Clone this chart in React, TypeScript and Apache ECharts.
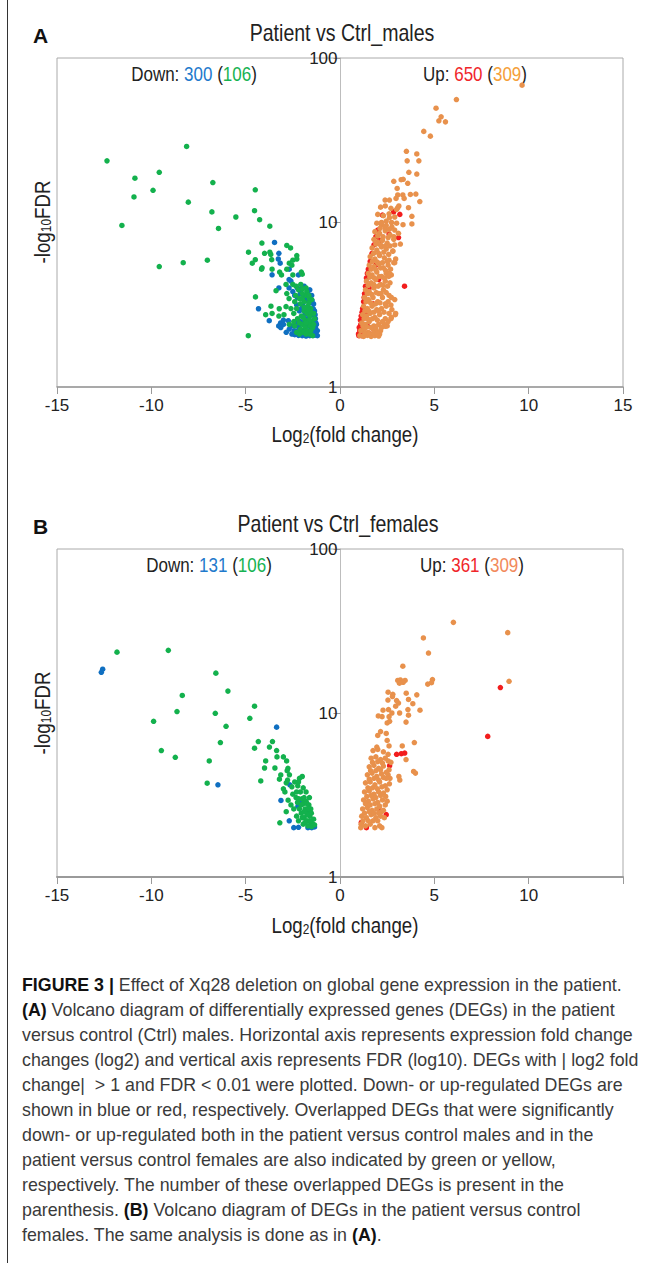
import React, { useEffect, useRef } from 'react';
import * as echarts from 'echarts';

const FONT = "'Liberation Sans', Arial, sans-serif";
const NARROW = 0.85;

const COL_BLUE = '#0f6fc1';
const COL_GREEN = '#13b14d';
const COL_RED = '#f21d1d';
const COL_ORANGE = '#e8914c';

// Axis ticks
const xTicks = [-15, -10, -5, 0, 5, 10, 15];
const xTickLabelsA = ['-15', '-10', '-5', '0', '5', '10', '15'];
const xTickLabelsB = ['-15', '-10', '-5', '0', '5', '10', ''];
const yTicks = [1, 10, 100];
const yTickLabels = ['1', '10', '100'];

// Counts shown in each panel: [down, downOverlap, up, upOverlap]
const countsA = [300, 106, 650, 309];
const countsB = [131, 106, 361, 309];

// ---------- Panel A (males) ----------
const aDownBlue: number[][] = [
  [-3.47, 7.56], [-3.24, 6.5], [-3.27, 6.0], [-3.17, 5.66], [-2.69, 5.2], [-3.6, 4.81], [-2.2, 4.8],
  [-2.7, 4.5], [-2.6, 4.4], [-3.24, 4.0], [-2.7, 4.0], [-2.26, 4.0], [-2.08, 3.93], [-2.5, 3.8],
  [-2.4, 3.6], [-2.26, 3.5], [-2.0, 3.45], [-1.8, 3.35], [-2.3, 3.16], [-4.32, 2.99], [-3.75, 2.53],
  [-3.15, 2.45], [-3.0, 2.4], [-3.25, 2.35], [-2.74, 2.53], [-2.69, 2.25], [-2.43, 2.2],
  [-2.4, 2.08], [-2.2, 2.06], [-2.0, 2.05], [-1.8, 2.04], [-1.6, 2.05], [-1.4, 2.06], [-1.25, 2.07],
  [-1.2, 2.2], [-1.25, 2.4], [-1.3, 2.6], [-1.35, 2.9], [-1.4, 3.2], [-1.5, 3.6], [-1.6, 3.9],
  [-1.9, 4.1], [-2.1, 2.5], [-1.8, 2.6], [-1.65, 2.9], [-2.15, 2.9], [-1.95, 3.1], [-1.7, 3.4],
  [-1.45, 2.2], [-2.55, 2.1], [-2.85, 2.15], [-3.0, 2.55], [-2.2, 2.35], [-2.0, 2.2], [-1.55, 2.25],
  [-1.3, 2.15], [-3.14, 2.3], [-1.2, 2.05], [-1.3, 2.3], [-1.38, 2.5], [-1.45, 2.75],
  [-1.28, 2.45], [-1.32, 2.75], [-1.42, 3.0], [-1.48, 3.35], [-1.55, 2.4], [-1.75, 2.35], [-1.95, 2.45],
  [-2.25, 2.2], [-1.65, 2.6], [-1.5, 2.8], [-1.85, 2.8], [-2.05, 3.0], [-1.75, 3.0], [-1.6, 3.25],
  [-1.85, 3.5], [-2.1, 3.7], [-1.7, 3.7], [-2.35, 2.5], [-2.55, 2.35], [-1.35, 2.25]
];
const aDownGreen: number[][] = [
  [-12.35, 23.7], [-8.13, 29.0], [-10.87, 18.6], [-9.58, 20.2], [-9.91, 15.7], [-10.92, 14.3],
  [-8.04, 13.3], [-6.74, 17.5], [-4.49, 15.8], [-11.56, 9.6], [-6.79, 11.6], [-6.44, 9.2],
  [-5.52, 10.8], [-4.53, 11.8], [-4.26, 10.4], [-3.72, 9.5], [-9.58, 5.4], [-8.31, 5.7], [-7.03, 5.9],
  [-4.86, 2.05], [-4.48, 3.53],
  [-4.14, 7.5], [-2.82, 7.25], [-2.62, 7.0], [-4.85, 6.6], [-4.0, 6.5], [-3.72, 6.6], [-3.67, 6.4],
  [-4.49, 5.94], [-4.65, 5.66], [-3.62, 5.94], [-2.29, 6.3], [-2.29, 6.0], [-2.5, 5.9], [-2.69, 5.66],
  [-2.55, 5.5], [-4.13, 5.3], [-4.16, 5.2], [-3.6, 5.2], [-3.2, 5.0], [-3.1, 4.8], [-2.82, 5.2],
  [-2.05, 5.0], [-2.0, 4.85], [-2.5, 4.8], [-2.86, 4.2], [-2.5, 4.2], [-2.33, 4.1], [-3.39, 3.85],
  [-2.08, 4.2], [-1.8, 4.0], [-1.76, 3.8], [-2.82, 3.7], [-2.7, 3.45], [-1.8, 3.6], [-1.63, 3.45],
  [-3.66, 3.1], [-3.22, 2.99], [-2.86, 3.08], [-3.94, 2.75], [-3.6, 2.8], [-3.24, 2.7], [-2.97, 2.75],
  [-2.69, 2.4], [-2.4, 2.35],
  [-2.2, 3.9], [-2.0, 3.7], [-1.9, 3.3], [-2.1, 3.2], [-1.7, 3.1], [-1.55, 3.0], [-2.3, 3.0],
  [-1.9, 2.9], [-1.75, 2.8], [-1.6, 2.7], [-2.05, 2.7], [-2.25, 2.6], [-1.85, 2.55], [-1.5, 2.5],
  [-1.7, 2.45], [-2.0, 2.4], [-1.6, 2.35], [-1.85, 2.3], [-2.1, 2.25], [-1.45, 2.3], [-1.75, 2.2],
  [-1.95, 2.15], [-1.6, 2.1], [-2.3, 2.15], [-1.5, 3.4], [-1.65, 3.6], [-2.15, 3.45], [-2.4, 3.3],
  [-1.4, 2.8], [-1.35, 2.6], [-2.45, 2.8], [-2.6, 3.0],
  [-1.4, 2.4], [-1.62, 2.55], [-1.8, 2.45], [-1.55, 2.85], [-1.72, 2.95], [-1.95, 2.65], [-2.15, 2.45],
  [-1.9, 3.05], [-1.65, 3.25], [-2.0, 3.45], [-1.55, 2.2], [-1.8, 2.1], [-2.15, 2.1], [-2.45, 2.5],
  [-2.35, 3.6], [-1.98, 3.95], [-1.45, 2.05]
];
const aUpRed: number[][] = [
  [2.84, 11.6], [3.17, 11.2], [2.25, 11.1], [2.6, 8.5], [3.1, 8.1], [3.42, 4.1],
  [1.0, 2.05], [1.05, 2.2], [0.98, 2.1], [1.1, 2.4], [1.12, 2.7], [1.2, 3.0], [1.25, 3.3], [1.3, 3.7],
  [1.35, 4.1], [1.4, 4.6], [1.5, 5.2], [1.6, 5.8], [1.7, 6.5], [1.8, 7.3], [1.9, 8.2], [2.0, 9.0],
  [1.15, 2.05], [1.3, 2.1], [1.2, 2.25], [1.08, 2.55], [1.6, 2.1], [1.45, 2.35], [1.55, 4.0],
  [2.1, 7.8], [1.75, 3.2], [1.4, 2.8], [2.05, 4.5], [1.9, 5.5], [1.02, 2.3], [1.17, 2.85],
  [1.28, 3.5], [1.45, 4.9]
];
const aUpOrange: number[][] = [
  [9.65, 68.4], [6.17, 55.9], [5.09, 49.5], [5.36, 43.9], [5.24, 41.5], [5.59, 40.9], [4.44, 35.8],
  [4.79, 33.5], [3.52, 27.1], [4.07, 26.1], [3.56, 23.7], [4.18, 23.7], [3.65, 20.2], [4.07, 19.7],
  [3.24, 18.2], [3.59, 17.3], [3.35, 18.3], [2.85, 17.8], [3.03, 16.1], [3.06, 14.7], [3.33, 14.7],
  [3.73, 14.8], [4.02, 14.9], [4.23, 13.4], [2.39, 13.7], [2.62, 13.7], [2.97, 14.0], [3.4, 14.0],
  [3.06, 12.3], [3.12, 12.6], [3.63, 12.3], [3.81, 10.9], [3.81, 9.8], [2.62, 10.7], [2.45, 10.2],
  [2.2, 9.7], [2.73, 10.0], [3.34, 9.7],
  [2.15, 12.4], [2.4, 12.6], [2.7, 12.2], [3.0, 12.0], [2.0, 11.2], [2.3, 11.0], [2.6, 11.3], [2.9, 10.8],
  [1.95, 9.9], [2.2, 10.0], [2.45, 9.6], [2.75, 9.4], [3.0, 9.9],
  [1.85, 8.8], [2.1, 8.6], [2.4, 8.9], [2.65, 8.4], [3.1, 8.6],
  [1.8, 7.9], [2.0, 7.6], [2.25, 7.8], [2.5, 7.5], [2.85, 7.9], [3.2, 7.4],
  [1.7, 7.0], [1.95, 6.8], [2.2, 7.1], [2.45, 6.9], [2.8, 6.7],
  [1.6, 6.2], [1.85, 6.0], [2.1, 6.3], [2.35, 6.1], [2.6, 5.9], [2.95, 6.0],
  [1.55, 5.5], [1.8, 5.4], [2.05, 5.6], [2.3, 5.3], [2.55, 5.5], [2.85, 5.7],
  [1.5, 4.9], [1.7, 4.8], [1.95, 5.0], [2.2, 4.7], [2.45, 4.9], [2.72, 4.8],
  [1.4, 4.4], [1.65, 4.3], [1.9, 4.5], [2.15, 4.2], [2.4, 4.4], [2.65, 4.3],
  [1.35, 3.9], [1.55, 3.8], [1.8, 4.0], [2.05, 3.7], [2.3, 3.9], [2.6, 3.6],
  [1.3, 3.5], [1.5, 3.4], [1.75, 3.5], [2.0, 3.3], [2.25, 3.5], [2.55, 3.3], [2.9, 3.4],
  [1.25, 3.1], [1.45, 3.0], [1.7, 3.1], [1.95, 2.95], [2.2, 3.0], [2.45, 3.1], [2.75, 2.95], [2.95, 2.8],
  [1.2, 2.75], [1.4, 2.7], [1.6, 2.8], [1.85, 2.65], [2.1, 2.75], [2.4, 2.6], [2.7, 2.6],
  [1.15, 2.45], [1.35, 2.4], [1.55, 2.5], [1.8, 2.35], [2.05, 2.4], [2.35, 2.4], [2.5, 2.35],
  [1.1, 2.2], [1.3, 2.25], [1.5, 2.15], [1.75, 2.25], [1.95, 2.15], [2.15, 2.2],
  [1.05, 2.05], [1.25, 2.03], [1.45, 2.06], [1.65, 2.03], [1.85, 2.05], [2.05, 2.04],
  [2.9, 7.3], [2.8, 6.7], [2.9, 5.7], [2.62, 4.9], [2.72, 3.5], [2.93, 2.75], [2.72, 2.65],
  [2.41, 2.34], [2.1, 2.1],
  [1.32, 2.12], [1.55, 2.1], [1.78, 2.12], [1.98, 2.1], [1.22, 2.35], [1.42, 2.32], [1.65, 2.3],
  [1.9, 2.28], [2.2, 2.3], [1.28, 2.6], [1.5, 2.58], [1.72, 2.6], [1.98, 2.55], [2.25, 2.5], [2.55, 2.5],
  [1.32, 2.9], [1.55, 2.88], [1.8, 2.85], [2.05, 2.9], [2.33, 2.85], [2.6, 2.8], [1.38, 3.3], [1.62, 3.25],
  [1.88, 3.2], [2.12, 3.25], [2.4, 3.2], [2.7, 3.15], [1.45, 3.7], [1.68, 3.65], [1.92, 3.75], [2.18, 3.7],
  [2.45, 3.75], [1.5, 4.15], [1.78, 4.2], [2.02, 4.1], [2.28, 4.15], [2.52, 4.1], [1.58, 4.65], [1.82, 4.6],
  [2.08, 4.7], [2.35, 4.6], [2.58, 4.7], [1.65, 5.2], [1.9, 5.15], [2.15, 5.3], [2.42, 5.1], [2.68, 5.2],
  [1.72, 5.8], [1.98, 5.75], [2.25, 5.7], [2.5, 5.8], [1.78, 6.5], [2.05, 6.5], [2.32, 6.6], [2.58, 6.4],
  [1.9, 7.4], [2.15, 7.3], [2.4, 7.2], [2.65, 7.2], [2.0, 8.3], [2.28, 8.2], [2.55, 8.1], [2.85, 8.2],
  [2.12, 9.2], [2.38, 9.3], [2.62, 9.1], [2.9, 9.0]
];

// ---------- Panel B (females) ----------
const bDownBlue: number[][] = [
  [-12.65, 17.7], [-12.58, 18.5], [-3.36, 8.2], [-6.47, 3.65], [-2.66, 3.65], [-3.13, 2.93],
  [-2.23, 2.7], [-2.03, 2.9], [-2.69, 2.2], [-2.45, 2.0], [-2.2, 2.01], [-1.7, 2.0], [-1.5, 2.0],
  [-1.35, 2.02]
];
const bDownGreen: number[][] = [
  [-11.82, 23.5], [-9.1, 24.1], [-6.58, 17.5], [-5.94, 13.6], [-8.36, 12.8], [-4.53, 11.0],
  [-8.64, 10.2], [-6.61, 9.96], [-9.88, 8.9], [-4.78, 9.28], [-6.04, 8.3], [-6.34, 6.6], [-4.33, 6.7],
  [-3.58, 6.7], [-4.53, 6.1], [-3.74, 6.2], [-3.36, 5.9], [-9.47, 5.9], [-8.73, 5.37], [-6.93, 5.1],
  [-3.34, 5.4], [-3.0, 5.4], [-3.94, 5.1], [-2.83, 5.1], [-4.0, 4.62], [-3.45, 4.62], [-2.76, 4.6],
  [-2.8, 4.45], [-4.2, 3.85], [-7.04, 3.73], [-3.19, 2.14],
  [-3.14, 4.19], [-3.21, 3.95], [-2.85, 3.75], [-2.78, 3.9], [-3.0, 3.45], [-2.92, 3.3], [-2.4, 3.8],
  [-2.24, 3.6], [-2.0, 4.1], [-2.15, 4.0], [-2.5, 3.2], [-2.33, 3.05], [-2.75, 2.94], [-2.85, 2.5],
  [-2.6, 2.75], [-2.45, 2.6], [-2.1, 3.3], [-2.0, 3.0], [-1.95, 2.8], [-1.8, 2.9], [-1.85, 2.6],
  [-1.7, 2.5], [-1.65, 2.75], [-2.05, 2.45], [-1.9, 2.3], [-1.6, 2.35], [-1.75, 2.2], [-1.55, 2.15],
  [-1.45, 2.1], [-1.95, 2.1], [-2.2, 2.2], [-1.5, 2.03], [-1.7, 2.05], [-1.35, 2.08], [-2.3, 2.35],
  [-1.8, 3.3], [-2.25, 2.85], [-1.55, 2.6], [-1.62, 3.05], [-2.55, 3.55], [-2.68, 4.2],
  [-1.4, 2.25], [-1.6, 2.2], [-1.85, 2.15], [-1.52, 2.45], [-1.75, 2.4], [-2.0, 2.3], [-1.68, 2.62],
  [-1.9, 2.5], [-2.15, 2.6], [-1.75, 2.8], [-2.05, 2.75], [-1.9, 3.05], [-2.2, 3.0], [-2.3, 3.3],
  [-1.95, 3.5], [-2.2, 3.8]
];
const bUpRed: number[][] = [
  [8.5, 14.3], [7.83, 7.2], [3.0, 5.6], [3.25, 5.65], [3.43, 5.7], [2.63, 4.77], [1.72, 2.45],
  [2.1, 2.55], [2.45, 2.4], [1.13, 2.15], [1.4, 2.0]
];
const bUpOrange: number[][] = [
  [6.01, 35.7], [8.89, 30.9], [4.42, 28.7], [4.69, 23.2], [3.33, 19.3], [4.9, 16.0], [4.65, 15.0],
  [4.85, 15.3], [8.96, 15.6], [3.06, 15.8], [3.2, 15.9], [3.45, 15.8], [3.15, 15.2], [3.35, 15.4],
  [2.55, 13.4], [2.8, 13.0], [2.78, 12.6], [3.51, 13.2], [4.07, 12.9], [3.63, 12.1], [2.54, 12.0],
  [3.0, 11.9], [3.86, 11.4], [2.95, 11.0], [3.1, 11.5], [2.28, 10.4], [2.57, 10.5], [2.75, 10.0],
  [3.6, 10.5], [4.24, 10.4], [3.16, 10.0], [2.03, 9.6], [2.23, 9.5], [2.6, 9.5], [3.63, 9.7],
  [2.5, 8.7], [2.63, 8.9], [3.5, 8.8], [2.0, 7.3], [2.5, 6.8], [2.6, 6.3], [1.95, 6.2], [3.3, 6.3],
  [3.94, 6.6], [2.15, 7.7], [2.45, 7.5], [3.5, 5.2], [3.9, 4.4], [4.0, 4.3], [3.12, 4.1], [3.17, 3.9],
  [2.55, 4.2], [2.65, 4.0],
  [1.75, 5.9], [2.0, 6.0], [2.3, 5.8], [2.55, 5.6], [1.65, 5.3], [1.9, 5.4], [2.15, 5.2], [2.4, 5.3],
  [2.7, 5.0], [1.55, 4.7], [1.8, 4.8], [2.05, 4.6], [2.3, 4.75], [2.6, 4.5], [1.45, 4.2], [1.7, 4.3],
  [1.95, 4.1], [2.2, 4.25], [2.45, 4.0], [1.35, 3.75], [1.6, 3.8], [1.85, 3.65], [2.1, 3.8], [2.4, 3.6],
  [2.62, 3.7], [1.3, 3.3], [1.55, 3.35], [1.8, 3.2], [2.05, 3.3], [2.3, 3.25], [1.25, 2.95], [1.5, 2.9],
  [1.75, 3.0], [2.0, 2.85], [2.25, 2.95], [2.5, 2.9], [1.2, 2.6], [1.45, 2.65], [1.7, 2.55], [1.95, 2.6],
  [2.2, 2.5], [1.15, 2.35], [1.4, 2.3], [1.65, 2.4], [1.9, 2.3], [2.15, 2.35], [2.35, 2.3], [1.12, 2.1],
  [1.35, 2.05], [1.6, 2.1], [1.85, 2.0], [2.1, 2.05], [2.22, 2.0], [1.1, 2.0],
  [1.22, 2.2], [1.5, 2.2], [1.75, 2.2], [2.0, 2.2], [1.3, 2.45], [1.55, 2.5], [1.8, 2.45], [2.05, 2.45],
  [2.3, 2.55], [1.35, 2.8], [1.6, 2.75], [1.85, 2.8], [2.1, 2.7], [2.4, 2.75], [1.42, 3.1], [1.65, 3.15],
  [1.9, 3.05], [2.15, 3.15], [2.42, 3.1], [1.48, 3.5], [1.72, 3.5], [1.98, 3.45], [2.22, 3.55], [2.5, 3.4],
  [1.55, 3.95], [1.8, 4.0], [2.05, 3.9], [2.3, 4.05], [1.62, 4.45], [1.9, 4.45], [2.15, 4.5], [2.45, 4.35],
  [1.72, 5.0], [2.0, 5.05], [2.25, 4.95], [2.55, 5.1]
];

const captionLines: string[] = [
  '{b|FIGURE 3 |} Effect of Xq28 deletion on global gene expression in the patient.',
  '{b|(A)} Volcano diagram of differentially expressed genes (DEGs) in the patient',
  'versus control (Ctrl) males. Horizontal axis represents expression fold change',
  'changes (log2) and vertical axis represents FDR (log10). DEGs with | log2 fold',
  'change|  > 1 and FDR < 0.01 were plotted. Down- or up-regulated DEGs are',
  'shown in blue or red, respectively. Overlapped DEGs that were significantly',
  'down- or up-regulated both in the patient versus control males and in the',
  'patient versus control females are also indicated by green or yellow,',
  'respectively. The number of these overlapped DEGs is present in the',
  'parenthesis. {b|(B)} Volcano diagram of DEGs in the patient versus control',
  'females. The same analysis is done as in {b|(A)}.'
];

function txt(x: number, y: number, text: string, extra: any = {}, rich: any = undefined, rotation = 0): any {
  return {
    type: 'text',
    x,
    y,
    rotation,
    scaleX: extra.scaleX || NARROW,
    silent: true,
    style: {
      text,
      fontFamily: FONT,
      fontSize: extra.fontSize || 20,
      fontWeight: extra.fontWeight || 'normal',
      fill: extra.fill || '#222',
      align: extra.align || 'center',
      textAlign: extra.align || 'center',
      verticalAlign: 'middle',
      textVerticalAlign: 'middle',
      rich
    }
  };
}

const baseRich = {
  k: { fontFamily: FONT, fontSize: 20, fill: '#222' }
};

function panelGraphics(top: number, letter: string, title: string, counts: number[], upOverlapColor: string, downX: number, upX: number, titleX: number): any[] {
  const bottom = top + 329;
  const sub = {
    a: { fontFamily: FONT, fontSize: 22, fill: '#222', verticalAlign: 'bottom', lineHeight: 22 },
    s: { fontFamily: FONT, fontSize: 14, fill: '#222', verticalAlign: 'bottom', lineHeight: 14, padding: [15, 0, 0, 0] }
  };
  return [
    txt(33, top - 23, letter, { fontSize: 21, fontWeight: 'bold', align: 'left', fill: '#111', scaleX: 1 }),
    txt(titleX, top - 25, title, { fontSize: 23 }),
    txt(downX, top + 16, `{k|Down: }{bl|${counts[0]}}{k| (}{gr|${counts[1]}}{k|)}`, {}, {
      ...baseRich,
      bl: { fontFamily: FONT, fontSize: 20, fill: '#1f7acc' },
      gr: { fontFamily: FONT, fontSize: 20, fill: '#17b352' }
    }),
    txt(upX, top + 16, `{k|Up: }{rd|${counts[2]}}{k| (}{or|${counts[3]}}{k|)}`, {}, {
      ...baseRich,
      rd: { fontFamily: FONT, fontSize: 20, fill: '#f0262a' },
      or: { fontFamily: FONT, fontSize: 20, fill: upOverlapColor }
    }),
    txt(345, bottom + 47, '{a|Log}{s|2}{a|(fold change)}', {}, sub),
    txt(42, top + 164, '{a|-log}{s|10}{a|FDR}', {}, sub, Math.PI / 2)
  ];
}

function xAxisFor(gridIndex: number, labels: string[], lineWidth: number): any {
  return {
    type: 'value',
    gridIndex,
    min: -15,
    max: 15,
    interval: 5,
    axisLine: { show: true, onZero: false, lineStyle: { color: '#9a9a9a', width: lineWidth } },
    axisTick: { show: true, inside: false, length: 7, lineStyle: { color: '#9a9a9a', width: 1 } },
    axisLabel: {
      show: true,
      margin: 10,
      fontFamily: FONT,
      fontSize: 17,
      color: '#222',
      formatter: (v: number) => {
        const i = xTicks.indexOf(v);
        return i >= 0 ? labels[i] : '';
      }
    },
    splitLine: { show: false }
  };
}

function yAxisFor(gridIndex: number): any {
  return {
    type: 'log',
    logBase: 10,
    gridIndex,
    min: 1,
    max: 100,
    offset: -(340.5 - 57),
    axisLine: { show: true, onZero: false, lineStyle: { color: '#bdbdbd', width: 1 } },
    axisTick: { show: true, inside: false, length: 7, lineStyle: { color: '#9a9a9a' } },
    axisLabel: {
      show: true,
      margin: 3,
      fontFamily: FONT,
      fontSize: 17,
      color: '#222',
      formatter: (v: number) => {
        const i = yTicks.indexOf(Math.round(v));
        return i >= 0 ? yTickLabels[i] : '';
      }
    },
    splitLine: { show: false },
    minorTick: { show: false }
  };
}

function sc(data: number[][], color: string, idx: number): any {
  return {
    type: 'scatter',
    xAxisIndex: idx,
    yAxisIndex: idx,
    data,
    symbol: 'circle',
    symbolSize: 5.5,
    silent: true,
    itemStyle: { color, opacity: 1 }
  };
}

export default function App() {
  const ref = useRef<HTMLDivElement>(null);
  useEffect(() => {
    const chart = echarts.init(ref.current!, null, { renderer: 'svg' });
    const topA = 58;
    const topB = 549;
    const option: any = {
      animation: false,
      backgroundColor: '#ffffff',
      grid: [
        { left: 57, top: topA, width: 566, height: 329, show: true, borderColor: '#aaaaaa', borderWidth: 1, backgroundColor: 'transparent' },
        { left: 57, top: topB, width: 566, height: 328, show: true, borderColor: '#aaaaaa', borderWidth: 1, backgroundColor: 'transparent' }
      ],
      xAxis: [xAxisFor(0, xTickLabelsA, 1.5), xAxisFor(1, xTickLabelsB, 2)],
      yAxis: [yAxisFor(0), yAxisFor(1)],
      series: [
        sc(aDownBlue, COL_BLUE, 0),
        sc(aDownGreen, COL_GREEN, 0),
        sc(aUpRed, COL_RED, 0),
        sc(aUpOrange, COL_ORANGE, 0),
        sc(bDownBlue, COL_BLUE, 1),
        sc(bDownGreen, COL_GREEN, 1),
        sc(bUpRed, COL_RED, 1),
        sc(bUpOrange, COL_ORANGE, 1)
      ],
      graphic: [
        { type: 'line', silent: true, shape: { x1: 7.5, y1: 0, x2: 7.5, y2: 1263 }, style: { stroke: '#333', lineWidth: 1 } },
        ...panelGraphics(topA, 'A', 'Patient vs Ctrl_males', countsA, '#f5a03a', 194, 475, 342),
        ...panelGraphics(topB, 'B', 'Patient vs Ctrl_females', countsB, '#f28a5c', 209, 472, 338),
        ...captionLines.map((line, i) => ({
          type: 'text',
          x: 22,
          y: 985 + i * 25,
          silent: true,
          style: {
            text: line,
            fontFamily: FONT,
            fontSize: 17.8,
            fill: '#3a3a3a',
            align: 'left',
            textAlign: 'left',
            verticalAlign: 'middle',
            textVerticalAlign: 'middle',
            rich: {
              b: { fontFamily: FONT, fontSize: 17.8, fontWeight: 'bold', fill: '#111' }
            }
          }
        }))
      ]
    };
    chart.setOption(option);
    return () => chart.dispose();
  }, []);
  return <div ref={ref} style={{ position: 'absolute', left: 0, top: 0, width: 657, height: 1263, background: '#fff' }} />;
}
